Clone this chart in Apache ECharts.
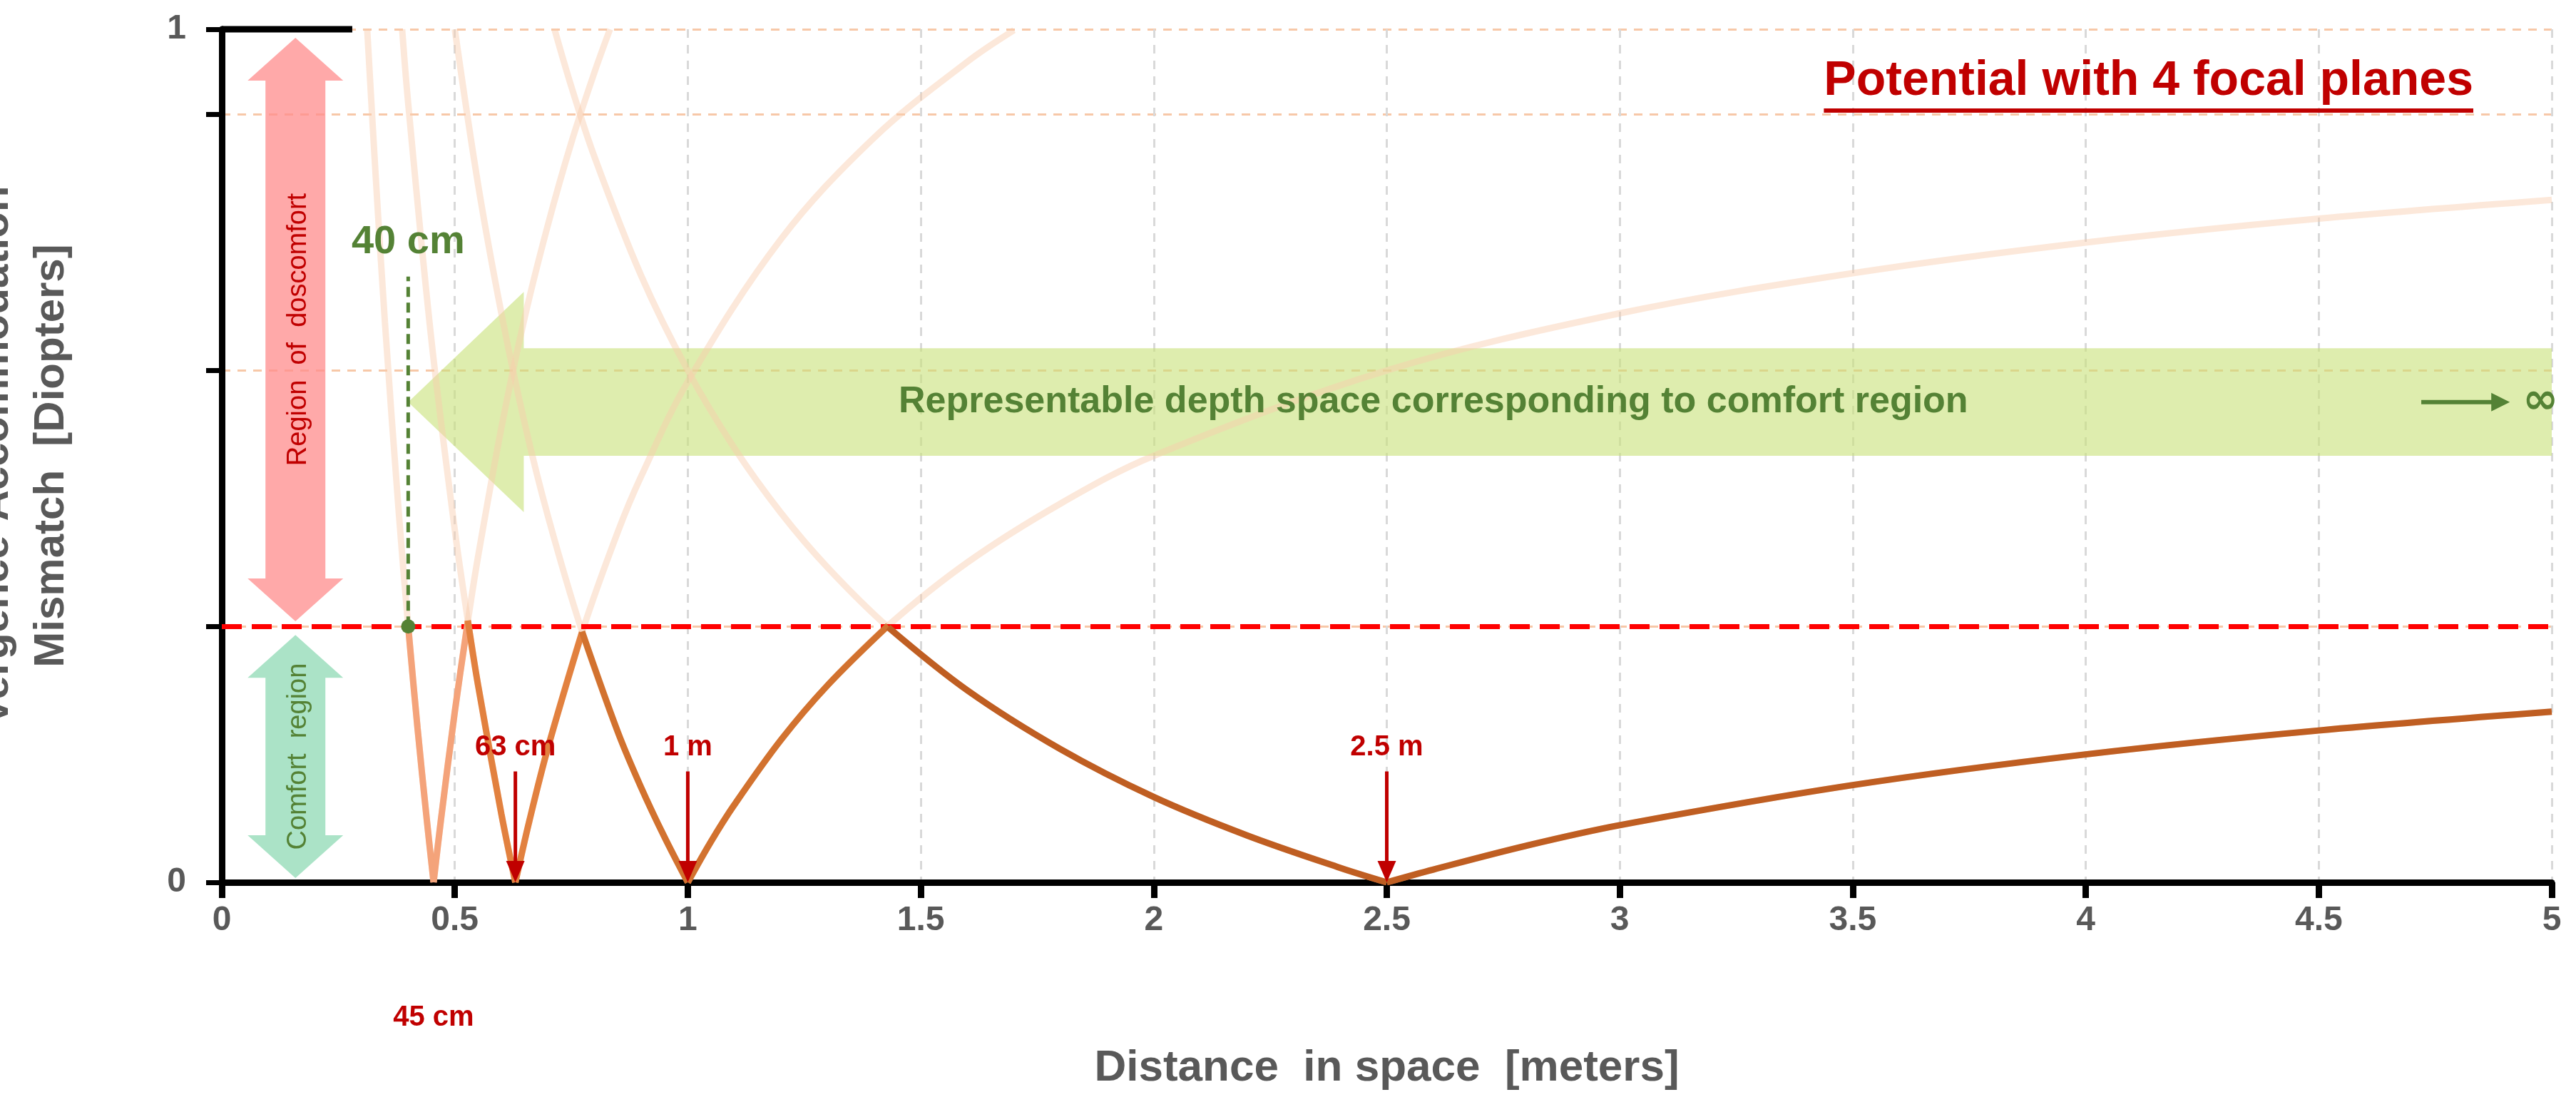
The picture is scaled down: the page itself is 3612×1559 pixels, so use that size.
<!DOCTYPE html>
<html><head><meta charset="utf-8">
<script src="https://cdn.jsdelivr.net/npm/echarts@6/dist/echarts.min.js"></script>
<style>html,body{margin:0;padding:0;background:#fff}#c{width:3612px;height:1559px}</style>
</head><body><div id="c"></div>
<script>
// focal plane curves: [distance m, mismatch D]
const curve45 = [[0.312,1.0],[0.33,0.83],[0.35,0.657],[0.38,0.432],[0.4,0.3],[0.42,0.181],[0.44,0.073],[0.4545,0],[0.47,0.072],[0.5,0.2],[0.528,0.306],[0.55,0.382],[0.6,0.533],[0.65,0.662],[0.7,0.771],[0.75,0.867],[0.8,0.95],[0.833,1.0]];
const curve63 = [[0.387,1.0],[0.4,0.913],[0.45,0.635],[0.5,0.413],[0.528,0.307],[0.55,0.231],[0.6,0.08],[0.63,0],[0.66,0.072],[0.7,0.158],[0.773,0.293],[0.85,0.411],[0.9,0.476],[1,0.587],[1.2,0.754],[1.4,0.873],[1.6,0.962],[1.7,0.999]];
const curve100 = [[0.5,1.0],[0.55,0.818],[0.6,0.667],[0.65,0.538],[0.7,0.429],[0.773,0.294],[0.85,0.176],[0.9,0.111],[0.95,0.053],[1,0],[1.05,0.048],[1.1,0.091],[1.2,0.167],[1.3,0.231],[1.43,0.301],[1.6,0.375],[1.8,0.444],[2,0.5],[2.5,0.6],[3,0.667],[3.5,0.714],[4,0.75],[4.5,0.778],[5,0.8]];
const curve250 = [[0.714,1.0],[0.75,0.933],[0.8,0.85],[0.9,0.711],[1,0.6],[1.1,0.509],[1.2,0.433],[1.3,0.369],[1.43,0.299],[1.6,0.225],[1.8,0.156],[2,0.1],[2.2,0.055],[2.4,0.017],[2.5,0],[2.6,0.015],[2.8,0.043],[3,0.067],[3.5,0.114],[4,0.15],[4.5,0.178],[5,0.2]];
const segments = [[0.4,0.528],[0.528,0.773],[0.773,1.43],[1.43,5]];
const xTicks = [0,0.5,1,1.5,2,2.5,3,3.5,4,4.5,5];
const comfortLimit = 0.3;
const planeLabels = [[0.63,'63 cm'],[1,'1 m'],[2.5,'2.5 m']];

const curves=[curve45,curve63,curve100,curve250];
const segColors=['#f4a37a','#e2813f','#d2722f','#bf5e22'];
const chart=echarts.init(document.getElementById('c'));
const series=[];
// split each curve into left/right branches at its minimum so smoothing keeps the cusp sharp
function branches(c){const i=c.findIndex(p=>p[1]===0);return i<0?[c]:[c.slice(0,i+1),c.slice(i)];}
curves.forEach(c=>branches(c).forEach(b=>series.push({type:'line',data:b,showSymbol:false,smooth:0.35,lineStyle:{color:'#f8cbad',width:9,opacity:0.45},silent:true,z:2})));
curves.forEach((c,i)=>{const seg=c.filter(p=>p[0]>=segments[i][0]-1e-9&&p[0]<=segments[i][1]+1e-9);
 branches(seg).forEach(b=>series.push({type:'line',data:b,showSymbol:false,smooth:0.35,lineStyle:{color:segColors[i],width:9},z:5}));});
series[series.length-1].markLine={silent:true,symbol:'none',data:[{yAxis:comfortLimit}],lineStyle:{color:'#ff0000',width:7,type:[28,14]},label:{show:false}};
const gray='#595959';
chart.setOption({
 animation:false,
 grid:{left:311,right:34,top:41,bottom:322,containLabel:false,outerBoundsMode:'none'},
 xAxis:{type:'value',min:0,max:5,interval:0.5,
  axisLine:{lineStyle:{color:'#000',width:9}},
  axisTick:{show:true,length:22,lineStyle:{color:'#000',width:9}},
  axisLabel:{fontSize:48,fontWeight:'bold',color:gray,margin:30,fontFamily:'Liberation Sans',formatter:v=>String(v)},
  splitLine:{show:true,lineStyle:{color:'#d9d9d9',width:3,type:[12,10]}},
  name:'Distance  in space  [meters]',nameLocation:'middle',nameGap:230,
  nameTextStyle:{fontSize:62,fontWeight:'bold',color:gray,fontFamily:'Liberation Sans'}},
 yAxis:{type:'value',min:0,max:1,interval:0.3,
  axisLine:{show:true,lineStyle:{color:'#000',width:9}},
  axisTick:{show:true,length:22,lineStyle:{color:'#000',width:7}},
  axisLabel:{fontSize:48,fontWeight:'bold',color:gray,margin:50,fontFamily:'Liberation Sans',formatter:v=>(v===0||v===1)?String(v):''},
  splitLine:{show:true,lineStyle:{color:'#f4b183',width:3,type:[12,10],opacity:0.7}},
  name:'Vergence-Accommodation\nMismatch  [Diopters]',nameLocation:'middle',nameGap:200,
  nameTextStyle:{fontSize:60,fontWeight:'bold',color:gray,fontFamily:'Liberation Sans',lineHeight:78}},
 series
});
function P(x,y){return chart.convertToPixel({gridIndex:0},[x,y]);}
const g=[];
{const t=P(0.4,0.563),hb=P(0.648,0.692),hb2=P(0.648,0.434),b1=P(0.648,0.626),b2=P(5,0.626),b3=P(5,0.5),b4=P(0.648,0.5);
g.push({type:'polygon',shape:{points:[t,hb,b1,b2,b3,b4,hb2]},style:{fill:'rgba(200,225,120,0.6)'},z:1});
const c=P(2.6,0.563);
g.push({type:'text',x:c[0],y:c[1],style:{text:'Representable depth space corresponding to comfort region',fill:'#548235',font:'bold 52px Liberation Sans',align:'center',verticalAlign:'middle'},z:10});
const a1=P(4.72,0.563),a2=P(4.91,0.563);
g.push({type:'line',shape:{x1:a1[0],y1:a1[1],x2:a2[0]-20,y2:a2[1]},style:{stroke:'#548235',lineWidth:6},z:10});
g.push({type:'polygon',shape:{points:[[a2[0],a2[1]],[a2[0]-26,a2[1]-13],[a2[0]-26,a2[1]+13]]},style:{fill:'#548235'},z:10});
const inf=P(4.93,0.563);
g.push({type:'text',x:inf[0]+5,y:inf[1],style:{text:'∞',fill:'#548235',font:'bold 60px DejaVu Sans',verticalAlign:'middle'},z:10});}
function vArrow(x,y1,y2,fill,text,tcol){const a=P(x,y1),b=P(x,y2),hw=67,sw=42,hh=60;
g.push({type:'polygon',shape:{points:[[a[0],a[1]],[a[0]+hw,a[1]-hh],[a[0]+sw,a[1]-hh],[b[0]+sw,b[1]+hh],[b[0]+hw,b[1]+hh],[b[0],b[1]],[b[0]-hw,b[1]+hh],[b[0]-sw,b[1]+hh],[a[0]-sw,a[1]-hh],[a[0]-hw,a[1]-hh]]},style:{fill},z:3});
g.push({type:'text',x:a[0]+4,y:(a[1]+b[1])/2,rotation:Math.PI/2,style:{text,fill:tcol,font:'38px Liberation Sans',align:'center',verticalAlign:'middle'},z:10});}
vArrow(0.158,0.306,0.99,'rgba(255,140,140,0.75)','Region  of  doscomfort','#c00000');
vArrow(0.158,0.005,0.29,'rgba(150,220,185,0.8)','Comfort  region','#548235');
{const a=P(0.4,comfortLimit),b=P(0.4,0.71);
g.push({type:'line',shape:{x1:a[0],y1:a[1],x2:b[0],y2:b[1]},style:{stroke:'#548235',lineWidth:5,lineDash:[14,8]},z:10});
g.push({type:'circle',shape:{cx:a[0],cy:a[1],r:10},style:{fill:'#548235'},z:11});
g.push({type:'text',x:a[0],y:b[1]-20,style:{text:'40 cm',fill:'#548235',font:'bold 56px Liberation Sans',align:'center',verticalAlign:'bottom'},z:10});}
planeLabels.forEach(([x,t])=>{const a=P(x,0.13),b=P(x,0);
g.push({type:'line',shape:{x1:a[0],y1:a[1],x2:b[0],y2:b[1]-26},style:{stroke:'#c00000',lineWidth:5},z:10});
g.push({type:'polygon',shape:{points:[[b[0],b[1]],[b[0]-13,b[1]-30],[b[0]+13,b[1]-30]]},style:{fill:'#c00000'},z:10});
g.push({type:'text',x:a[0],y:a[1]-14,style:{text:t,fill:'#c00000',font:'bold 40px Liberation Sans',align:'center',verticalAlign:'bottom'},z:10});});
{const a=P(0.4545,0);g.push({type:'text',x:a[0],y:a[1]+190,style:{text:'45 cm',fill:'#c00000',font:'bold 40px Liberation Sans',align:'center',verticalAlign:'middle'},z:10});}
// title with underline sized to the text
{const font='bold 68px Liberation Sans',txt='Potential with 4 focal planes';
const ctx=document.createElement('canvas').getContext('2d');ctx.font=font;const w=ctx.measureText(txt).width;
const xr=3468,x0=xr-w;
g.push({type:'text',x:x0,y:80,style:{text:txt,fill:'#c00000',font},z:10});
g.push({type:'rect',shape:{x:x0,y:152,width:w,height:6},style:{fill:'#c00000'},z:10});}
{const a=P(0,1),b=P(0.28,1);g.push({type:'line',shape:{x1:a[0],y1:a[1],x2:b[0],y2:b[1]},style:{stroke:'#000',lineWidth:9},z:10});}
chart.setOption({graphic:g});
</script></body></html>
